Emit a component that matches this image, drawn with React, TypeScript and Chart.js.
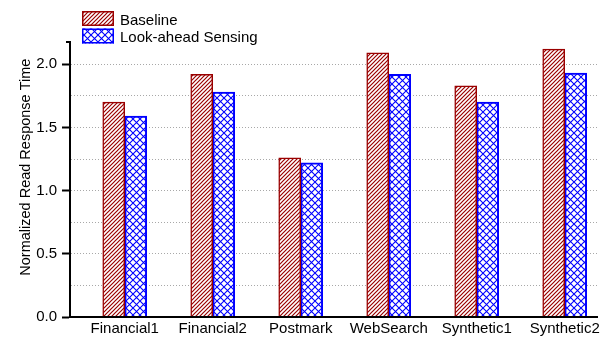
import { useEffect, useRef } from 'react';
import { Chart, registerables } from 'chart.js';

Chart.register(...registerables);

const categories = ['Financial1', 'Financial2', 'Postmark', 'WebSearch', 'Synthetic1', 'Synthetic2'];
const seriesNames = ['Baseline', 'Look-ahead Sensing'];
const baselineValues = [1.70, 1.92, 1.26, 2.09, 1.83, 2.12];
const lookaheadValues = [1.59, 1.78, 1.22, 1.92, 1.70, 1.93];
const yAxisTitle = 'Normalized Read Response Time';

const FONT = '"Liberation Sans", Arial, Helvetica, sans-serif';
const RED = '#9a0000';
const BLUE = '#0000ff';

function stripePattern(ctx: CanvasRenderingContext2D, color: string) {
  const s = 4;
  const c = document.createElement('canvas');
  c.width = s;
  c.height = s;
  const g = c.getContext('2d')!;
  g.fillStyle = '#ffffff';
  g.fillRect(0, 0, s, s);
  g.strokeStyle = color;
  g.lineWidth = 1.2;
  g.beginPath();
  g.moveTo(0, s);
  g.lineTo(s, 0);
  g.moveTo(-1, 1);
  g.lineTo(1, -1);
  g.moveTo(s - 1, s + 1);
  g.lineTo(s + 1, s - 1);
  g.stroke();
  return ctx.createPattern(c, 'repeat')!;
}

function crossPattern(ctx: CanvasRenderingContext2D, color: string) {
  const s = 7;
  const c = document.createElement('canvas');
  c.width = s;
  c.height = s;
  const g = c.getContext('2d')!;
  g.fillStyle = '#ffffff';
  g.fillRect(0, 0, s, s);
  g.strokeStyle = color;
  g.lineWidth = 1.1;
  g.beginPath();
  g.moveTo(0, 0);
  g.lineTo(s, s);
  g.moveTo(0, s);
  g.lineTo(s, 0);
  g.stroke();
  return ctx.createPattern(c, 'repeat')!;
}

const overlayPlugin = {
  id: 'overlay',
  afterDraw(chart: any) {
    const { ctx, chartArea } = chart;
    ctx.save();
    // small cap at the top end of the y axis
    ctx.strokeStyle = '#000';
    ctx.lineWidth = 2;
    ctx.beginPath();
    ctx.moveTo(chartArea.left - 4, chartArea.top + 0.5);
    ctx.lineTo(chartArea.left + 1, chartArea.top + 0.5);
    ctx.stroke();
    // legend
    chart.data.datasets.forEach((ds: any, i: number) => {
      const y = 11 + i * 17.5;
      ctx.fillStyle = ds.backgroundColor;
      ctx.fillRect(82, y, 32, 15);
      ctx.strokeStyle = ds.borderColor;
      ctx.lineWidth = 1.5;
      ctx.strokeRect(82.75, y + 0.75, 30.5, 13.5);
      ctx.fillStyle = '#000';
      ctx.font = `15px ${FONT}`;
      ctx.textBaseline = 'alphabetic';
      ctx.textAlign = 'left';
      ctx.fillText(ds.label, 120, y + 13.5);
    });
    ctx.restore();
  },
};

export default function App() {
  const ref = useRef<HTMLCanvasElement>(null);

  useEffect(() => {
    const canvas = ref.current!;
    const ctx = canvas.getContext('2d')!;
    const redPat = stripePattern(ctx, RED);
    const bluePat = crossPattern(ctx, BLUE);

    const chart = new Chart(canvas, {
      type: 'bar',
      data: {
        datasets: [
          {
            label: seriesNames[0],
            data: baselineValues.map((v, i) => ({ x: i + 1, y: v })),
            backgroundColor: redPat as any,
            borderColor: RED,
            borderWidth: 1.5,
            barThickness: 22,
            borderSkipped: 'start',
          },
          {
            label: seriesNames[1],
            data: lookaheadValues.map((v, i) => ({ x: i + 1, y: v })),
            backgroundColor: bluePat as any,
            borderColor: BLUE,
            borderWidth: 2,
            barThickness: 22,
            borderSkipped: 'start',
          },
        ],
      },
      options: {
        animation: false,
        responsive: false,
        maintainAspectRatio: false,
        layout: { padding: { top: 41.5, right: 8, left: 0, bottom: 0 } },
        plugins: {
          legend: { display: false },
          tooltip: { enabled: false },
        },
        scales: {
          x: {
            type: 'linear',
            min: 0.378,
            max: 6.367,
            offset: false,
            grid: { display: false },
            border: { display: true, color: '#000', width: 2, z: 1 },
            ticks: {
              stepSize: 1,
              includeBounds: false,
              autoSkip: false,
              maxRotation: 0,
              minRotation: 0,
              padding: -5,
              color: '#000',
              font: { family: FONT, size: 15 },
              callback: (v: any) => (Number.isInteger(v) && categories[v - 1]) ? categories[v - 1] : '',
            },
            afterFit: (s: any) => { s.height = 22; },
          },
          y: {
            type: 'linear',
            min: 0,
            max: 2.18,
            grid: {
              drawOnChartArea: true,
              color: (c: any) => (!c.tick || c.tick.value === 0 ? 'rgba(0,0,0,0)' : '#a8a8a8'),
              lineWidth: 1,
              tickColor: (c: any) => (c.tick && Math.abs(c.tick.value * 2 - Math.round(c.tick.value * 2)) < 1e-6 ? '#000' : 'rgba(0,0,0,0)'),
              tickLength: 8,
              tickWidth: 2,
            },
            border: { display: true, color: '#000', width: 2, dash: [1, 2] },
            ticks: {
              stepSize: 0.25,
              includeBounds: false,
              autoSkip: false,
              padding: 5,
              color: '#000',
              font: { family: FONT, size: 15 },
              callback: (v: any) => (Math.abs(v * 2 - Math.round(v * 2)) < 1e-6 ? Number(v).toFixed(1) : ''),
            },
            title: {
              display: true,
              text: '      ' + yAxisTitle,
              color: '#000',
              font: { family: FONT, size: 14.5 },
              padding: { top: 17, bottom: 0 },
            },
            afterFit: (s: any) => { s.width = 70; },
          },
        },
      },
      plugins: [overlayPlugin],
    });
    return () => chart.destroy();
  }, []);

  return (
    <div style={{ position: 'fixed', left: 0, top: 0, width: 605, height: 339, background: '#fff' }}>
      <canvas ref={ref} width={605} height={339} style={{ display: 'block', width: 605, height: 339 }} />
    </div>
  );
}
